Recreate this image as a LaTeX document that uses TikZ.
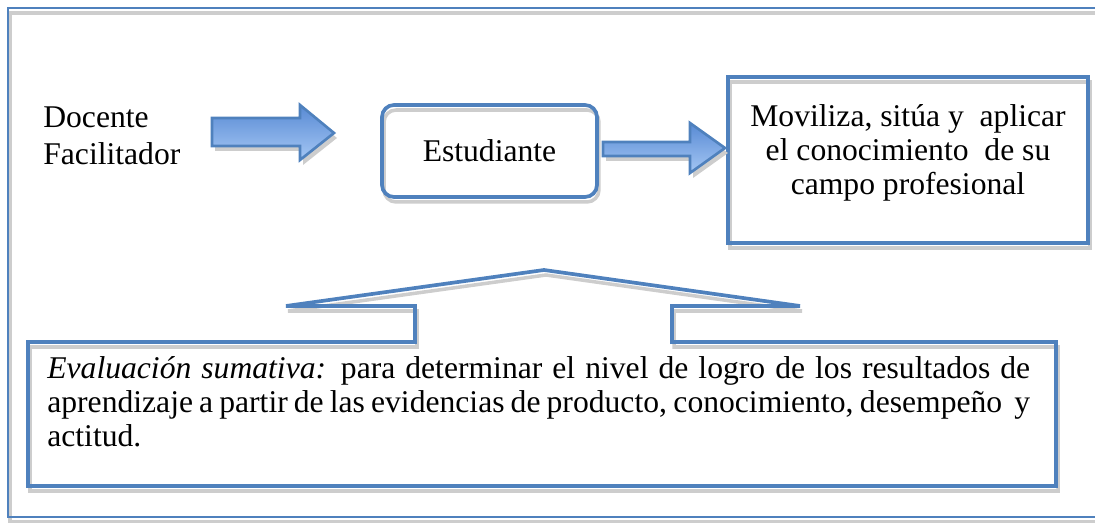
\documentclass[tikz,border=0pt]{standalone}
\usepackage{fontspec}
\setmainfont{Liberation Serif}
\usetikzlibrary{positioning}

\definecolor{boxblue}{RGB}{79,129,189}
\definecolor{shadegray}{RGB}{205,205,205}
\definecolor{arrowtop}{RGB}{88,138,212}
\definecolor{arrowbot}{RGB}{165,199,244}

\tikzset{
  softshadow/.style={preaction={draw=shadegray, line width=2pt, transform canvas={shift={(2,5)}}}},
  bluebox/.style={draw=boxblue, line width=2.1pt, softshadow},
  blockarrow/.style={draw=boxblue, line width=1.5pt, top color=arrowtop, bottom color=arrowbot,
    preaction={fill=shadegray, transform canvas={shift={(3,5)}}}},
  bodytext/.style={font=\fontsize{18}{19.5}\selectfont, inner sep=0pt}
}

\begin{document}
\begin{tikzpicture}[x=0.02cm, y=-0.02cm]
  \useasboundingbox (0,0) rectangle (1095,523);
  \clip (0,0) rectangle (1095,523);
  % outer frame
  \draw[bluebox, line width=1.2pt] (8,8) rectangle (1130,517);

  \node[bodytext, anchor=west, align=left, font=\fontsize{18}{21}\selectfont](doc)at(43,136){Docente\\Facilitador};
  \node[bluebox, bodytext, rounded corners=0.24cm, minimum width=4.3cm, minimum height=1.84cm](est)at(489.5,151){Estudiante};
  \node[bluebox, minimum width=7.2cm, minimum height=3.32cm](mov)at(908,160){};
  \node[bodytext, align=center](movtext)at(908,153){Moviliza, sitúa y\ \ aplicar\\el conocimiento\ \ de su\\campo profesional};

  % block arrows
  \draw[blockarrow] (212,118) -- (300,118) -- (300,105) -- (334,133) -- (300,160) -- (300,146) -- (212,146) -- cycle;
  \draw[blockarrow] (603,142) -- (690,142) -- (690,123) -- (725,148) -- (690,173) -- (690,156) -- (603,156) -- cycle;

  % callout
  \draw[bluebox] (28,342) -- (415,342) -- (415,306) -- (286,306) -- (544,270) -- (800,306) -- (672,306)
    -- (672,342) -- (1056,342) -- (1056,486) -- (28,486) -- cycle;
  \node[bodytext, text width=19.66cm, align=justify, anchor=north west](eval)at(47,356){\textit{Evaluación sumativa:} para determinar el nivel de logro de los resultados de\linebreak aprendizaje a partir de las evidencias de producto, conocimiento, desempeño\ \ y\linebreak actitud.};
\end{tikzpicture}
\end{document}
